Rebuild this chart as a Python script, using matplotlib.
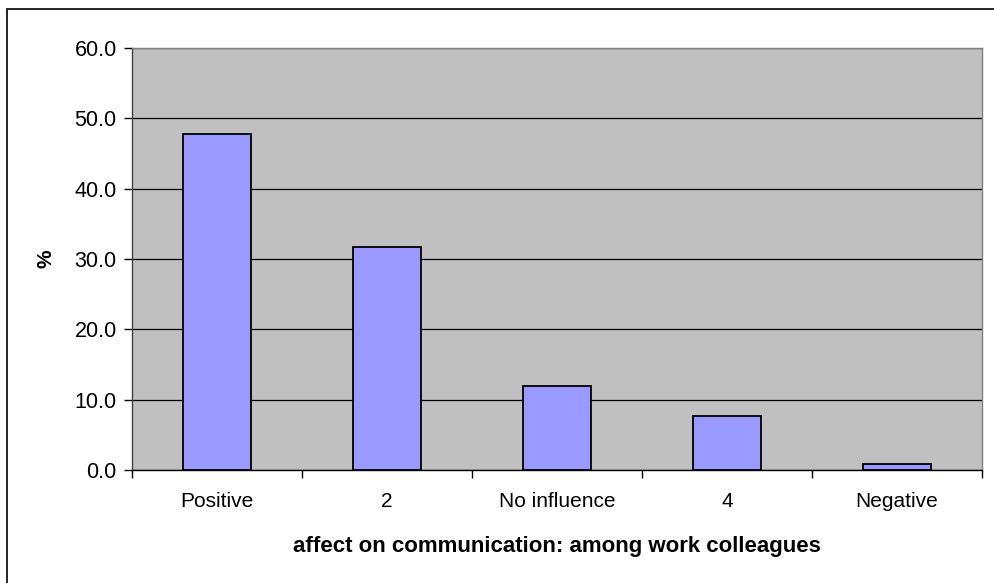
import matplotlib
matplotlib.use("Agg")
import matplotlib.pyplot as plt
from matplotlib.patches import Rectangle
import numpy as np

categories = ["Positive", "2", "No influence", "4", "Negative"]
percent = [47.8, 31.7, 11.9, 7.7, 0.9]
y_ticks = [0, 10, 20, 30, 40, 50, 60]
y_tick_labels = ["0.0", "10.0", "20.0", "30.0", "40.0", "50.0", "60.0"]

plt.rcParams["font.family"] = ["Liberation Sans", "DejaVu Sans"]

fig = plt.figure(figsize=(9.94, 5.83), dpi=100)
fig.patch.set_facecolor("white")

# outer chart frame (runs off the right and bottom edges)
fig.patches.append(Rectangle((7 / 994, -0.05), 1.2, 1 - 9 / 583 + 0.05,
                             transform=fig.transFigure, fill=False,
                             edgecolor="black", linewidth=1.2, zorder=0))

ax = fig.add_axes([132 / 994, 113 / 583, 850 / 994, 422 / 583])
ax.set_facecolor("#C0C0C0")

x = np.arange(len(categories))
ax.bar(x, percent, width=0.4, color="#9999FF", edgecolor="black",
       linewidth=1.3, zorder=3)

ax.set_xlim(-0.5, len(categories) - 0.5)
ax.set_ylim(0, 60)
ax.set_yticks(y_ticks)
ax.set_yticklabels(y_tick_labels, fontsize=15.5)
ax.yaxis.grid(True, color="black", linewidth=0.9, zorder=1)
ax.set_axisbelow(True)

# category boundary ticks, labels centred between them
ax.set_xticks(np.arange(-0.5, len(categories), 1.0))
ax.set_xticklabels([])
ax.set_xticks(x, minor=True)
ax.set_xticklabels(categories, minor=True, fontsize=15)
ax.tick_params(axis="x", which="major", length=6, width=1, color="black", direction="out")
ax.tick_params(axis="x", which="minor", length=0, pad=16)
ax.tick_params(axis="y", length=6, width=1, color="black", direction="out", pad=5)

for side in ["top", "right"]:
    ax.spines[side].set_color("#808080")
    ax.spines[side].set_linewidth(1.0)
ax.spines["left"].set_color("#404040")
ax.spines["bottom"].set_color("black")
ax.spines["left"].set_linewidth(1.0)
ax.spines["bottom"].set_linewidth(1.0)

ax.set_xlabel("affect on communication: among work colleagues",
              fontsize=16, fontweight="bold", labelpad=18)
ax.set_ylabel("%", fontsize=15, fontweight="bold", labelpad=14)

fig.savefig("out.png", dpi=100, facecolor="white")
